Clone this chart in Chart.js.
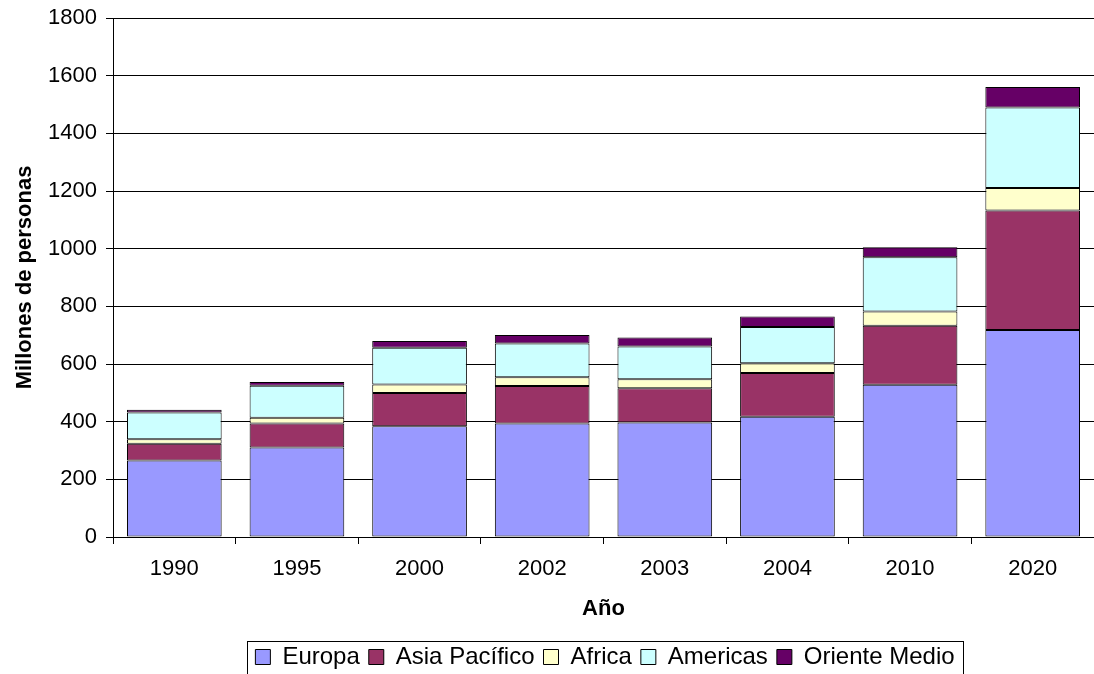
<!DOCTYPE html>
<html>
<head>
<meta charset="utf-8">
<script src="https://cdn.jsdelivr.net/npm/chart.js@4"></script>
<style>
  html, body { margin: 0; padding: 0; background: #fff; }
  #wrap { width: 1094px; height: 674px; }
</style>
</head>
<body>
<div id="wrap"><canvas id="c" width="1094" height="674"></canvas></div>
<script>
const categories = ['1990', '1995', '2000', '2002', '2003', '2004', '2010', '2020'];
const europa       = [265, 310, 384, 394, 397, 417, 528, 718];
const asiaPacifico = [58, 84, 115, 130, 119, 152, 205, 414];
const africa       = [16, 20, 30, 30, 31, 34, 49, 78];
const americas     = [93, 111, 127, 117, 114, 125, 188, 280];
const orienteMedio = [9, 13, 24, 30, 31, 37, 35, 71];
const seriesNames  = ['Europa', 'Asia Pacífico', 'Africa', 'Americas', 'Oriente Medio'];
const seriesColors = ['#9999FF', '#993366', '#FFFFCC', '#CCFFFF', '#660066'];
const yTitle = 'Millones de personas';
const xTitle = 'Año';

const FONT = "'Liberation Sans', Arial, sans-serif";
const seriesData = [europa, asiaPacifico, africa, americas, orienteMedio];

const legendPlugin = {
  id: 'legendBox',
  afterLayout(chart) {
    const lg = chart.legend;
    if (!lg) return;
    lg.left = 116; lg.right = 1094;
    lg.top = 636;
  },
  afterDraw(chart) {
    const lg = chart.legend;
    if (!lg || !lg.legendHitBoxes || !lg.legendHitBoxes.length) return;
    const hb = lg.legendHitBoxes;
    const x0 = Math.round(hb[0].left - 8) + 0.5;
    const last = hb[hb.length - 1];
    const x1 = Math.round(last.left + last.width + 8) + 0.5;
    const ctx = chart.ctx;
    ctx.save();
    ctx.strokeStyle = '#000';
    ctx.lineWidth = 1;
    ctx.strokeRect(x0, 641.5, x1 - x0, 60);
    ctx.restore();
  }
};

new Chart(document.getElementById('c'), {
  type: 'bar',
  data: {
    labels: categories,
    datasets: seriesData.map((d, i) => ({
      label: seriesNames[i],
      data: d,
      backgroundColor: seriesColors[i],
      borderColor: '#000',
      borderWidth: 1,
      borderSkipped: false,
      barPercentage: 0.772,
      categoryPercentage: 1.0
    }))
  },
  options: {
    responsive: false,
    animation: false,
    layout: { padding: { top: 18, right: -3, left: 0, bottom: 0 } },
    plugins: {
      tooltip: { enabled: false },
      legend: {
        position: 'bottom',
        align: 'center',
        labels: {
          font: { family: FONT, size: 24 },
          color: '#000',
          boxWidth: 15,
          boxHeight: 15,
          padding: 9
        }
      }
    },
    scales: {
      x: {
        stacked: true,
        grid: { display: true, drawOnChartArea: false, drawTicks: true, tickLength: 7, color: '#000', offset: true },
        border: { display: true, color: '#000', width: 1 },
        ticks: { font: { family: FONT, size: 22 }, color: '#000', padding: 12, maxRotation: 0 },
        title: { display: true, text: xTitle, font: { family: FONT, size: 22, weight: 'bold' }, color: '#000', padding: { top: 0, bottom: 9 } },
        afterFit(scale) {
          const lh = scale.chart.legend ? scale.chart.legend.height : 44;
          scale.height = 137 - lh;
        }
      },
      y: {
        stacked: true,
        min: 0,
        max: 1800,
        grid: { display: true, drawOnChartArea: true, drawTicks: true, color: 'rgba(0,0,0,1)', tickColor: '#000', lineWidth: 1, tickLength: 7 },
        border: { display: true, color: '#000', width: 1 },
        ticks: {
          stepSize: 200,
          font: { family: FONT, size: 22 },
          color: '#000',
          padding: 9,
          callback: (v) => String(v)
        },
        title: { display: true, text: yTitle, font: { family: FONT, size: 22, weight: 'bold' }, color: '#000', padding: { top: 12, bottom: 0 } },
        afterFit(scale) {
          scale.width = 113;
          scale.paddingTop = 0;
          scale.paddingBottom = 0;
        }
      }
    }
  },
  plugins: [legendPlugin]
});
</script>
</body>
</html>
